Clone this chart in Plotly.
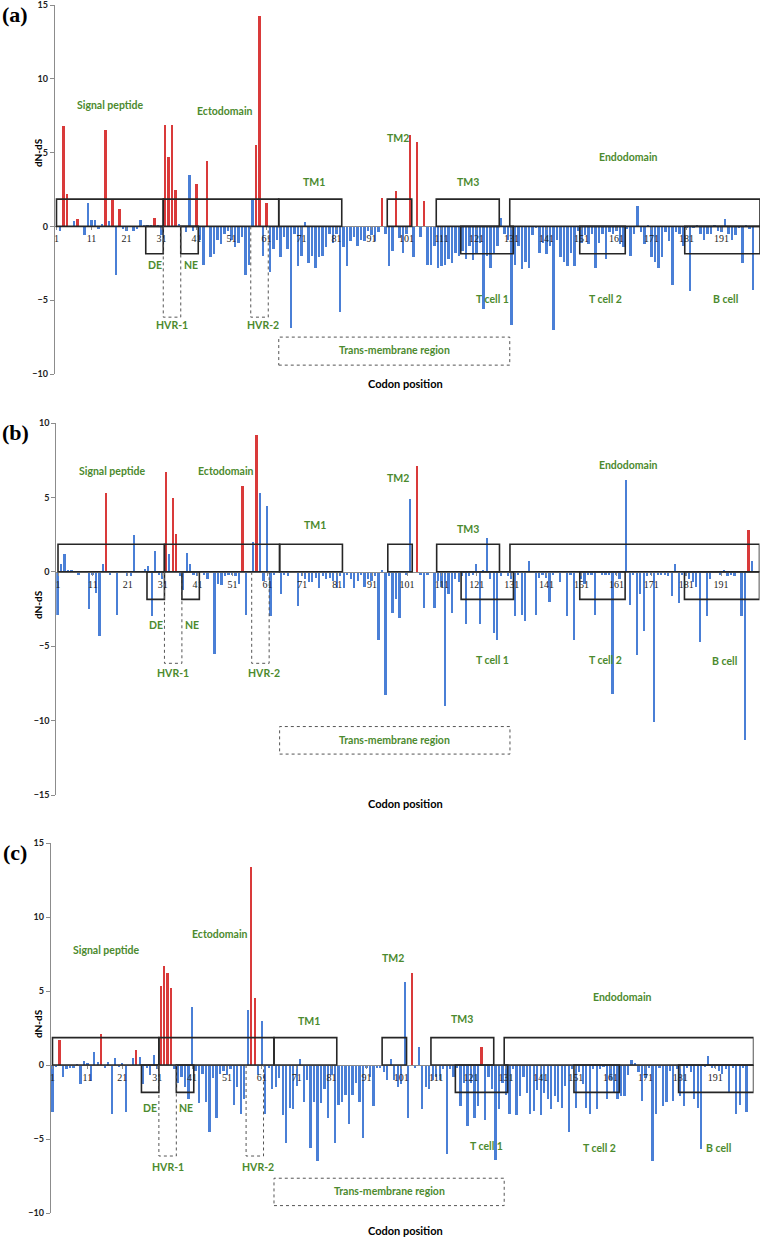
import plotly.graph_objects as go

# codon positions shared by the three panels
codons = list(range(1, 201))

# dN-dS per codon, panel (a)
dnds_a = [
    0, -0.3, 6.8, 2.2, 0, 0.35, 0.5, 0, -0.6, 1.6,
    0.45, 0.45, -0.2, 0.15, 6.5, 0.35, 1.8, -3.3, 1.2, -0.2,
    -0.3, 0, -0.3, -0.2, 0.45, 0.1, 0.1, 0.1, 0.55, 0.05,
    -0.6, 6.9, 4.7, 6.9, 2.5, 0.15, 0, -0.4, 3.5, -0.3,
    2.85, -0.9, -2.6, 4.45, -2.1, -1.9, -0.9, -1.2, -0.5, -0.3,
    -0.9, -1.4, -1.1, -0.7, -3.3, -2.6, 1.85, 5.5, 14.25, -2.0,
    1.6, -3.1, -1.5, -0.9, -2.1, -0.7, -1.5, -6.9, -0.5, -2.7,
    -2.0, 0.3, -2.5, -2.0, -2.8, -2.1, -2.0, -1.4, -0.5, -1.1,
    -0.5, -5.8, -1.4, -2.7, -1.0, -0.7, -1.3, -0.9, -1.0, -0.3,
    -0.6, -1.0, -0.4, 1.9, -0.5, -2.7, -1.7, 2.4, -0.8, -1.8,
    -0.5, 6.2, -2.1, 5.7, -0.7, 1.7, -2.6, -2.6, -1.3, -2.8,
    -2.7, -2.6, -2.2, -2.5, -1.8, -2.0, -1.7, -2.2, -1.3, -2.3,
    -1.9, -1.1, -5.6, -2.0, -2.8, -1.8, -1.3, 0.6, -0.5, -0.9,
    -6.7, -2.6, -1.3, -2.9, -2.4, -2.8, -0.6, -0.1, -1.8, -1.1,
    -1.9, -1.3, -7.0, -0.9, -2.1, -2.4, -2.7, -1.8, -2.7, -0.3,
    -1.1, -0.6, -1.2, -0.5, -2.8, -1.1, -0.5, -2.2, -0.4, -0.5,
    -0.3, -1.2, -1.4, -0.2, -2.0, -0.5, 1.4, -0.4, -1.2, 0.1,
    -2.1, -2.4, -2.8, -2.1, -0.4, -1.0, -4.0, -0.4, -0.5, -1.3,
    -0.1, -4.4, -0.1, 0.1, -0.5, -0.9, -0.5, -0.5, 0.1, -0.3,
    -0.4, 0.5, -0.5, -0.9, -0.6, -0.1, -2.5, 0.1, -0.2, -4.3,
]
# codons under positive selection (red), panel (a)
selected_a = [3, 4, 7, 15, 17, 19, 29, 32, 33, 34, 35, 41, 44, 58, 59, 61,
              94, 98, 102, 104, 106]

# panel (b)
dnds_b = [
    -2.9, 0.5, 1.2, 0.1, 0.1, 0, -0.2, 0, 0.05, -2.5,
    -0.2, -1.4, -4.3, 0.5, 5.3, -0.2, 0, -2.9, 0, 0.05,
    -0.3, -0.3, 2.5, -0.1, -0.1, 0.2, 0.4, -3.0, 1.4, -0.2,
    -0.5, 6.7, 1.2, 4.95, 2.55, -0.3, -1.2, 1.25, 0.5, -0.2,
    -0.3, -0.1, -0.2, -0.5, 0, -5.5, -0.8, -0.9, -0.3, -0.2,
    -0.2, -0.3, -0.8, 5.8, -2.9, 0, 2.0, 9.2, 5.3, -0.6,
    4.45, -3.0, -0.2, -0.1, -1.5, -0.2, -0.3, -0.1, 0.05, -2.3,
    -0.3, -0.5, -0.7, -0.7, -0.4, -1.1, -0.3, -0.5, -0.4, -0.6,
    -1.1, -0.3, -1.1, -0.2, -0.5, -1.1, -0.6, -0.2, -1.0, -0.5,
    -0.6, -0.3, -4.6, 0.1, -8.3, -0.3, -2.8, -1.8, -3.1, -0.1,
    -0.2, 4.9, 0, 7.1, -0.2, -2.4, -0.2, 0, -2.4, -0.6,
    -1.0, -9.0, -1.5, -2.8, -0.5, -0.7, -0.3, -3.5, -0.3, -0.2,
    0.55, -3.5, 0.1, 2.3, -0.5, -4.1, -4.6, -0.3, 0, -0.3,
    -0.5, -3.0, -0.2, -2.9, -3.3, 0.75, -0.1, -2.9, -0.4, -0.2,
    -0.4, -2.0, -0.2, -0.1, -0.7, -0.1, -3.0, -0.2, -4.6, -0.1,
    -0.5, -0.8, -0.2, -0.2, -2.9, -0.1, -0.2, -0.2, -0.2, -8.2,
    -0.2, -0.5, -0.1, 6.2, -2.2, -0.2, -5.6, -1.5, -4.0, -0.3,
    -0.2, -10.1, -0.2, -0.2, -0.2, -0.3, -1.6, 0.55, -2.1, -0.2,
    -0.3, -0.5, -0.7, -1.0, -4.7, -0.1, -3.0, -0.5, -0.1, -0.1,
    -0.2, 0.15, -0.3, -0.2, -0.3, -0.1, -3.0, -11.3, 2.8, 0.75,
]
selected_b = [15, 32, 34, 35, 54, 58, 104, 199]

# panel (c)
dnds_c = [
    -3.2, -0.1, 1.7, -0.8, -0.3, -0.2, -0.2, 0.05, -1.3, 0.25,
    0.1, -1.1, 0.9, 0.2, 2.1, -0.2, 0.2, -3.3, 0.5, -0.1,
    0.1, -3.2, 0, 0.5, 1.0, 0.55, -1.3, -0.2, -0.7, 0.65,
    -0.3, 5.35, 6.7, 6.2, 5.2, -0.3, -1.2, -0.8, -1.5, -2.3,
    3.95, -0.4, -2.6, -0.6, -2.5, -4.5, -0.9, -3.6, -0.6, -0.4,
    -0.7, -0.3, -2.7, -1.5, -3.3, -2.3, 3.7, 13.4, 4.5, -0.7,
    3.0, -3.3, -0.2, -1.6, -1.5, -0.9, -3.4, -5.3, -2.9, -3.0,
    -1.4, 0.4, -2.5, -1.0, -5.6, -2.5, -6.5, -2.6, -1.6, -3.6,
    -0.7, -5.3, -2.7, -2.5, -2.0, -4.0, -2.0, -1.2, -2.5, -4.9,
    -0.2, -0.8, -2.8, -0.2, -0.2, -0.5, -1.0, 0.4, -1.0, -1.5,
    -1.3, 5.6, -3.6, 6.2, -0.2, 1.2, -3.0, -1.5, -1.6, -1.0,
    -0.8, -1.0, -0.3, -6.0, -0.3, -0.8, -0.2, -2.8, -1.2, -4.1,
    -1.2, -3.6, -2.8, 1.25, -3.7, -0.8, -1.6, -6.4, -3.0, -1.2,
    -2.0, -3.3, -0.3, -3.4, -2.1, -0.8, -1.9, -3.3, -3.1, -1.7,
    -3.4, -1.9, -2.3, -3.0, -2.1, -2.5, -2.9, -1.4, -4.5, -0.3,
    -2.9, -0.5, -1.3, -2.9, -3.3, -0.3, -3.0, -0.3, -0.1, -2.3,
    -1.0, -1.8, -2.3, -2.1, -2.1, -0.7, 0.35, 0.1, -0.5, -2.4,
    -0.9, -0.2, -6.5, -3.3, -0.2, -2.8, -2.5, -0.4, -2.4, -0.3,
    -2.1, -2.8, -0.2, -0.5, -2.3, -2.9, -5.7, -0.1, 0.6, -0.2,
    -0.2, -0.4, -0.6, -0.3, -1.8, -0.2, -3.3, -2.7, -0.2, -3.2,
]
selected_c = [3, 15, 25, 32, 33, 34, 35, 58, 59, 104, 124]

tick_codons = list(range(1, 200, 10))

BLUE = "#4A7FD6"
RED = "#D93A3A"
GREEN = "#4C8A2E"
W, H = 763, 1238

# region boxes (codon spans)
upper_boxes = [(1, 31.5), (31.5, 64.5), (64.5, 82.5), (95.5, 102.5), (109.5, 127.5), (130.5, 202)]
lower_boxes = [(26.5, 31.5), (36.5, 41.5), (116.5, 131.5), (150.5, 163.5), (180.5, 202)]
hvr_boxes = [(31.5, 36.5), (56.5, 61.5)]

label_x = {"Signal peptide": 16.5, "Ectodomain": 49, "TM1": 74.5, "TM2": 98.5, "TM3": 118.5,
           "Endodomain": 164.5, "DE": 29, "NE": 39.3, "HVR-1": 34, "HVR-2": 60,
           "T cell 1": 125.5, "T cell 2": 157.8, "B cell": 192, "Trans-membrane region": 97.5}

panels = [
    dict(tag="(a)", vals=dnds_a, sel=selected_a, yr=[-10, 15], top=5, bot=374, c1=56.5, s=3.5,
         tmr=(-9.4, -7.5), title_y=153, codon_y=383,
         ly={"Signal peptide": 8.2, "Ectodomain": 7.8, "TM1": 3.0, "TM2": 6.0, "TM3": 3.0,
             "Endodomain": 4.7, "DE": -2.6, "NE": -2.6, "HVR-1": -6.7, "HVR-2": -6.7,
             "T cell 1": -4.9, "T cell 2": -4.9, "B cell": -4.9, "Trans-membrane region": -8.4}),
    dict(tag="(b)", vals=dnds_b, sel=selected_b, yr=[-15, 10], top=423, bot=795, c1=58, s=3.49,
         tmr=(-12.25, -10.4), title_y=605, codon_y=803,
         ly={"Signal peptide": 6.75, "Ectodomain": 6.75, "TM1": 3.15, "TM2": 6.3, "TM3": 2.9,
             "Endodomain": 7.2, "DE": -3.6, "NE": -3.6, "HVR-1": -6.8, "HVR-2": -6.8,
             "T cell 1": -5.9, "T cell 2": -5.9, "B cell": -6.0, "Trans-membrane region": -11.3}),
    dict(tag="(c)", vals=dnds_c, sel=selected_c, yr=[-10, 15], top=843, bot=1213, c1=52.5, s=3.488,
         tmr=(-9.5, -7.65), title_y=1024, codon_y=1230,
         ly={"Signal peptide": 7.8, "Ectodomain": 8.85, "TM1": 3.0, "TM2": 7.2, "TM3": 3.1,
             "Endodomain": 4.6, "DE": -2.9, "NE": -2.9, "HVR-1": -6.9, "HVR-2": -6.9,
             "T cell 1": -5.5, "T cell 2": -5.6, "B cell": -5.6, "Trans-membrane region": -8.5}),
]

fig = go.Figure()
shapes, annotations, layout_axes = [], [], {}

for i, p in enumerate(panels, start=1):
    sx = "" if i == 1 else str(i)
    xa, ya = "x" + sx, "y" + sx
    colors = [RED if c in p["sel"] else BLUE for c in codons]
    fig.add_trace(go.Bar(x=codons, y=p["vals"], marker_color=colors, marker_line_width=0,
                         width=0.5, xaxis=xa, yaxis=ya, showlegend=False))

    x0 = (p["c1"] - 0.5 * p["s"]) / W
    x1 = (p["c1"] + 201 * p["s"]) / W
    d0 = 1 - p["bot"] / H
    d1 = 1 - p["top"] / H
    ymin, ymax = p["yr"]
    zero_pos = d0 + (0 - ymin) / (ymax - ymin) * (d1 - d0)

    layout_axes["xaxis" + sx] = dict(
        domain=[x0, x1], range=[0.5, 202], anchor="free", position=zero_pos, automargin=False,
        tickvals=tick_codons, ticks="outside", ticklen=3, tickcolor="#8c8c8c",
        showline=True, linecolor="#8c8c8c", linewidth=1, showgrid=False, zeroline=False,
        tickfont=dict(family="Liberation Serif", size=10, color="#222"))
    layout_axes["yaxis" + sx] = dict(
        domain=[d0, d1], range=p["yr"], anchor=xa, dtick=5, ticks="outside", ticklen=4,
        tickcolor="#8c8c8c", showline=True, linecolor="#8c8c8c", linewidth=1,
        showgrid=False, zeroline=False, automargin=False, ticklabeloverflow="allow",
        tickfont=dict(family="Lato", size=9, color="#222", weight="bold"))

    box = dict(type="rect", xref=xa, yref=ya, line=dict(color="#262626", width=1.6),
               fillcolor="rgba(0,0,0,0)")
    for a, b in upper_boxes:
        shapes.append(dict(box, x0=a, x1=b, y0=0, y1=1.85))
    for a, b in lower_boxes:
        shapes.append(dict(box, x0=a, x1=b, y0=0, y1=-1.85))
    for a, b in hvr_boxes:
        shapes.append(dict(type="path", xref=xa, yref=ya,
                           path=f"M {a},0 L {a},-6.15 L {b},-6.15 L {b},0",
                           line=dict(color="#555", width=1, dash="dot")))
    shapes.append(dict(type="rect", xref=xa, yref=ya, x0=64.5, x1=130.5,
                       y0=p["tmr"][0], y1=p["tmr"][1],
                       line=dict(color="#555", width=1, dash="dot")))

    for name, yv in p["ly"].items():
        annotations.append(dict(xref=xa, yref=ya, x=label_x[name], y=yv, text=f"<b>{name}</b>",
                                showarrow=False, font=dict(family="Lato", size=10.5, color=GREEN)))

    annotations.append(dict(xref="paper", yref="paper", x=15 / W, y=1 - (p["top"] + 9) / H,
                            xanchor="center", yanchor="middle",
                            text=f"<b>{p['tag']}</b>", showarrow=False,
                            font=dict(family="Liberation Serif", size=22, color="black")))
    annotations.append(dict(xref="paper", yref="paper", x=38 / W, y=1 - p["title_y"] / H,
                            xanchor="center", yanchor="middle",
                            text="<b>dN-dS</b>", textangle=-90, showarrow=False,
                            font=dict(family="Lato", size=10, color="black")))
    annotations.append(dict(xref="paper", yref="paper", x=405 / W, y=1 - p["codon_y"] / H,
                            xanchor="center", yanchor="middle",
                            text="<b>Codon position</b>", showarrow=False,
                            font=dict(family="Lato", size=11, color="black")))

fig.update_layout(width=W, height=H, margin=dict(l=0, r=0, t=0, b=0),
                  paper_bgcolor="white", plot_bgcolor="white", bargap=0,
                  shapes=shapes, annotations=annotations, **layout_axes)

# drop the page's default body margin so the figure starts at the window corner
fig.write_html("out.html", config={"displayModeBar": False},
               post_script="document.body.style.margin='0';")
